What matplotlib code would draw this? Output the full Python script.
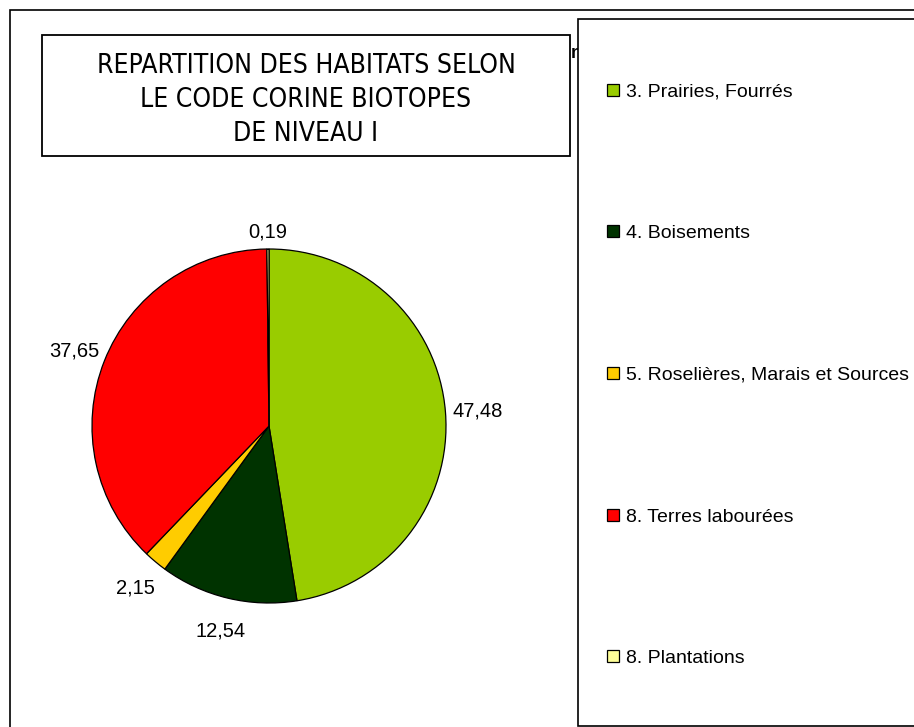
import matplotlib
matplotlib.use("Agg")
import matplotlib.pyplot as plt
from matplotlib.patches import Rectangle
from matplotlib.lines import Line2D

categories = ["3. Prairies, Fourrés", "4. Boisements", "5. Roselières, Marais et Sources",
              "8. Terres labourées", "8. Plantations"]
values = [47.48, 12.54, 2.15, 37.65, 0.19]
colors = ["#99CC00", "#003300", "#FFCC00", "#FF0000", "#FFFF99"]
title_lines = ["REPARTITION DES HABITATS SELON", "LE CODE CORINE BIOTOPES", "DE NIVEAU I"]

W, H = 914, 727
fig = plt.figure(figsize=(W / 100, H / 100), dpi=100)
fig.patch.set_facecolor("white")

def fx(px):
    return px / W

def fy(py):
    return 1 - py / H

# outer frame
fig.add_artist(Rectangle((fx(10), fy(740)), fx(1000), 730 / H, transform=fig.transFigure,
                         fill=False, edgecolor="black", lw=1.2))

# pie
cx, cy, r = 269, 426, 177
ax = fig.add_axes([fx(cx - r), fy(cy + r), 2 * r / W, 2 * r / H])
labels = [f"{v:.2f}".replace(".", ",") for v in values]
wedges, texts = ax.pie(values, colors=colors, startangle=90, counterclock=False,
                       labels=labels, labeldistance=1.18,
                       wedgeprops=dict(edgecolor="black", linewidth=0.9),
                       textprops=dict(fontsize=14.5, family=["Liberation Sans", "DejaVu Sans"]))
for t in texts:
    t.set_ha("center")
    t.set_va("center_baseline")
# the tiny top slice label sits closer to the pie (Excel bbox-based placement)
x0, y0 = texts[4].get_position()
texts[4].set_position((x0 * 1.11 / 1.18, y0 * 1.11 / 1.18))
ax.set_xlim(-1, 1)
ax.set_ylim(-1, 1)
ax.set_aspect("equal")
ax.axis("off")

# partially hidden text peeking between title and legend
fig.text(fx(571), fy(54), "n", ha="left", va="center", fontsize=13, fontweight="bold",
         family=["Liberation Sans", "DejaVu Sans"], zorder=2)

# title box
fig.add_artist(Rectangle((fx(42), fy(156)), fx(570 - 42), (156 - 35) / H, transform=fig.transFigure,
                         fill=True, facecolor="white", edgecolor="black", lw=1.3))
for i, line in enumerate(title_lines):
    fig.text(fx(306), fy(66 + 34 * i), line, ha="center", va="center", fontsize=19,
             family="DejaVu Sans", fontstretch="condensed")

# legend box
fig.add_artist(Rectangle((fx(578), fy(726)), fx(400), (726 - 19) / H, transform=fig.transFigure,
                         fill=True, facecolor="white", edgecolor="black", lw=1.2, zorder=3))
handles = [Line2D([], [], marker="s", linestyle="none", markersize=8, markerfacecolor=c,
                  markeredgecolor="black", markeredgewidth=0.9) for c in colors]
leg = fig.legend(handles, categories, loc="upper left", bbox_to_anchor=(fx(607), fy(83)),
                 frameon=False, labelspacing=6.38, handlelength=0.6,
                 handletextpad=0.4, borderpad=0, borderaxespad=0,
                 prop=dict(family=["Liberation Sans", "DejaVu Sans"], size=14))
leg.set_zorder(4)

fig.savefig("out.png", dpi=100, facecolor="white")
